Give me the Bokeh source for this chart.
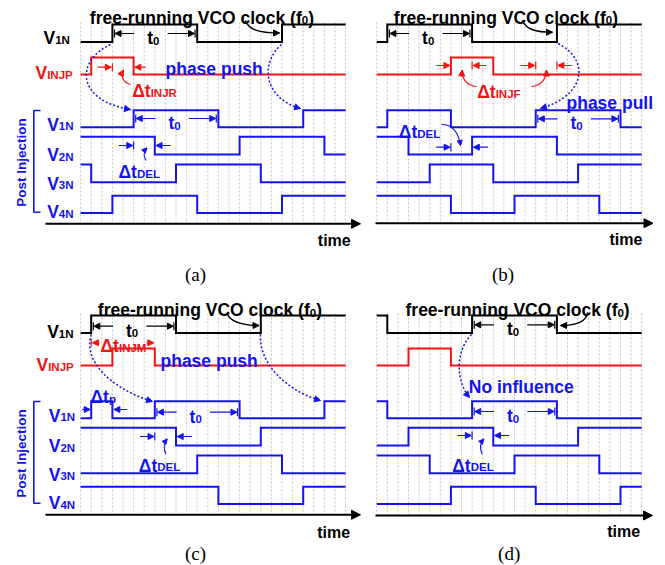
import math
from bokeh.plotting import figure
from bokeh.layouts import column, row
from bokeh.models import Range1d, Arrow, NormalHead
from bokeh.embed import file_html
from bokeh.resources import INLINE
from bokeh.core.properties import value

# ---------------- data (time in grid units; 1 unit = half a delay-cell delay) -------------
time_units = list(range(0, 26))      # dashed timing grid lines
t_end = 25

# each signal: (initial logic level, toggle times)
a_v1n_free = (0, [3, 11, 19])
a_injp     = (0, [1, 5])
a_v1n      = (0, [5, 13, 21])
a_v2n      = (1, [7, 15, 23])
a_v3n      = (1, [1, 9, 17])
a_v4n      = (0, [3, 11, 19])

b_v1n_free = (0, [1, 9, 17])
b_injp     = (0, [7, 11])
b_v1n      = (0, [1, 7, 15, 23])
b_v2n      = (1, [3, 9, 17])
b_v3n      = (0, [5, 11, 19])
b_v4n      = (1, [7, 13, 21])

c_v1n_free = (0, [1, 9, 17])
c_injp     = (0, [3, 7])
c_v1n      = (0, [1, 3, 7, 15, 23])
c_v2n      = (1, [9, 17])
c_v3n      = (0, [11, 19])
c_v4n      = (1, [13, 21])

d_v1n_free = (1, [1, 9, 17])
d_injp     = (0, [3, 7])
d_v1n      = (1, [1, 9, 17])
d_v2n      = (0, [3, 11, 19])
d_v3n      = (1, [5, 13, 21])
d_v4n      = (0, [7, 15, 23])

post_subs = ["1N", "2N", "3N", "4N"]
panel_labels = ["(a)", "(b)", "(c)", "(d)"]
title_parts = ["free-running VCO clock (f", "0", ")"]

# ---------------- layout / style ----------------
UNIT = 10.6
FONT = "Liberation Sans"
SERIF = "Liberation Serif"
BLACK = "#000000"
RED = "#f01414"
BLUE = "#1414f0"
GRIDC = "#b4b4b4"
ROWS = {"free": (24.0, 41.5), "inj": (57.0, 74.0), "v1": (109.7, 126.7),
        "v2": (136.3, 154.0), "v3": (164.0, 181.7), "v4": (195.3, 212.5)}
POST_BASE = [124.0, 154.5, 183.0, 211.5]
AXIS_Y = 223.3
GRID_TOP = 22.0
BIG, SUB = 17.5, 11.5
TOP_H = 286

W = {' ': 278, '(': 333, ')': 333, '-': 333, '0': 556, '1': 556, '2': 556, '3': 556, '4': 556,
     'C': 722, 'D': 722, 'E': 667, 'F': 611, 'I': 278, 'J': 556, 'L': 611, 'M': 833, 'N': 722,
     'O': 778, 'P': 667, 'R': 722, 'V': 667, 'a': 556, 'c': 556, 'e': 556, 'f': 333, 'g': 611,
     'h': 611, 'i': 278, 'j': 278, 'k': 556, 'l': 278, 'm': 889, 'n': 611, 'o': 611, 'p': 611,
     'r': 389, 's': 556, 't': 333, 'u': 611, 'Δ': 722}


def tw(s, size):
    return sum(W.get(ch, 600) for ch in s) * size / 1000.0


class Panel:
    def __init__(self, left, top, width, height, x0, y0):
        self.X0, self.Y0 = x0, y0
        self.fig = figure(width=width, height=height, output_backend="svg", toolbar_location=None,
                          x_range=Range1d((left - x0) / UNIT, (left + width - x0) / UNIT),
                          y_range=Range1d(top + height - y0, top - y0),
                          x_axis_type=None, y_axis_type=None, min_border=0,
                          outline_line_color=None, background_fill_color="white",
                          border_fill_color="white")

    def px(self, u):
        return self.X0 + u * UNIT

    def ux(self, x):
        return (x - self.X0) / UNIT

    def ly(self, y):
        return y - self.Y0


def steps(sig):
    lvl, edges = sig
    xs, ys = [0], [lvl]
    for e in edges:
        xs += [e, e]
        ys += [lvl, 1 - lvl]
        lvl = 1 - lvl
    xs.append(t_end)
    ys.append(lvl)
    return xs, ys


def wave(P, sig, rowname, color):
    xs, lv = steps(sig)
    hi, lo = ROWS[rowname]
    ys = [lo - l * (lo - hi) for l in lv]
    P.fig.line(xs, ys, line_color=color, line_width=2, line_join="miter")


def grid(P):
    P.fig.segment(x0=time_units, y0=[GRID_TOP] * len(time_units), x1=time_units,
                  y1=[AXIS_Y] * len(time_units), line_color=GRIDC, line_width=0.8, line_dash="2 2")


def text(P, x, base, s, size, color, align="left", bold=True, font=FONT, angle=0.0,
         baseline="alphabetic"):
    P.fig.text(x=[P.ux(x)], y=[P.ly(base)], text=[s], text_font=value(font),
               text_font_size=value(f"{size}px"), text_font_style="bold" if bold else "normal",
               text_color=color, text_align=align, text_baseline=baseline, angle=angle)


def rich(P, x, base, parts, color, align="left"):
    total = sum(tw(t, s) for t, s, dy in parts)
    if align == "center":
        x -= total / 2.0
    for t, s, dy in parts:
        text(P, x, base + dy, t, s, color)
        x += tw(t, s)


def arrow(P, x1, y1, x2, y2, color, size=6, width=1.2):
    P.fig.add_layout(Arrow(x_start=P.ux(x1), y_start=P.ly(y1), x_end=P.ux(x2), y_end=P.ly(y2),
                           line_color=color, line_width=width,
                           end=NormalHead(size=size, fill_color=color, line_color=color,
                                          line_width=1)))


def tick(P, x, y, color, h=4.0):
    P.fig.segment(x0=[P.ux(x)], y0=[P.ly(y - h)], x1=[P.ux(x)], y1=[P.ly(y + h)],
                  line_color=color, line_width=1.2)


def curve(P, pts, color, dash="solid", width=1.3, head=6):
    (xa, ya), (xb, yb), (xc, yc), (xd, yd) = pts
    P.fig.bezier(x0=[P.ux(xa)], y0=[P.ly(ya)], cx0=[P.ux(xb)], cy0=[P.ly(yb)],
                 cx1=[P.ux(xc)], cy1=[P.ly(yc)], x1=[P.ux(xd)], y1=[P.ly(yd)],
                 line_color=color, line_width=width, line_dash=dash)
    dx, dy = xd - xc, yd - yc
    L = math.hypot(dx, dy) or 1.0
    P.fig.add_layout(Arrow(x_start=P.ux(xd - 3 * dx / L), y_start=P.ly(yd - 3 * dy / L),
                           x_end=P.ux(xd), y_end=P.ly(yd), line_alpha=0.0,
                           end=NormalHead(size=head, fill_color=color, line_color=color,
                                          line_width=1)))


def t0_marks(P, e1, e2, y, color):
    a, b = P.px(e1), P.px(e2)
    mid = (a + b) / 2.0 - 1.5
    tk = 0.2 * UNIT
    tick(P, a + tk, y, color)
    arrow(P, mid - 1.8 * UNIT, y, a + tk + 0.5, y, color)
    tick(P, b - tk, y, color)
    arrow(P, mid + 1.35 * UNIT, y, b - tk - 0.5, y, color)
    rich(P, mid, y + 4.5, [("t", BIG, 0), ("0", SUB, 2.5)], color, align="center")


def del_marks(P, e1, e2, y, color):
    a, b = P.px(e1), P.px(e2)
    tick(P, a, y, color)
    arrow(P, a - 1.4 * UNIT, y, a - 0.8, y, color)
    arrow(P, b + 1.5 * UNIT, y, b + 1.2, y, color)


def common(P, sigs, title_x, title_base, axis_x0, axis_x1, axis_y, time_x, time_base,
           lab, lab_x, lab_base):
    grid(P)
    for sig, rn, col in zip(sigs, ["free", "inj", "v1", "v2", "v3", "v4"],
                            [BLACK, RED, BLUE, BLUE, BLUE, BLUE]):
        wave(P, sig, rn, col)
    rich(P, title_x, title_base, [(title_parts[0], BIG, 0), (title_parts[1], SUB, 2.5),
                                  (title_parts[2], BIG, 0)], BLACK)
    arrow(P, axis_x0, axis_y, axis_x1, axis_y, BLACK, size=9, width=2)
    text(P, time_x, time_base, "time", 16, BLACK)
    text(P, lab_x, lab_base, lab, 19, BLACK, align="center", bold=False, font=SERIF)


def post_labels(P, x):
    for sub, base in zip(post_subs, POST_BASE):
        rich(P, x, base + P.Y0, [("V", BIG, 0), (sub, SUB, 1.5)], BLUE)
    text(P, 21, 162 + P.Y0, "Post Injection", 13.5, BLUE, align="center",
         angle=math.pi / 2, baseline="middle")
    P.fig.line([P.ux(40), P.ux(33.3), P.ux(33.3), P.ux(40)],
               [110, 110, 211.7, 211.7], line_color=BLUE, line_width=1.6)


# ---------------- panel (a) ----------------
A = Panel(0, 0, 365, TOP_H, 80.1, 0)
common(A, [a_v1n_free, a_injp, a_v1n, a_v2n, a_v3n, a_v4n], 89.3, 17, 45, 360, AXIS_Y,
       317.3, 240, panel_labels[0], 195, 273.5)
rich(A, 43, 37.7, [("V", BIG, 0), ("1N", SUB, 1.5)], BLACK)
rich(A, 35, 72.7, [("V", BIG, 0), ("INJP", SUB, 1.5)], RED)
post_labels(A, 46.7)
t0_marks(A, a_v1n_free[1][0], a_v1n_free[1][1], 33, BLACK)
t0_marks(A, a_v1n[1][0], a_v1n[1][1], 118, BLUE)
curve(A, [(245, 20), (248, 29), (258, 32.5), (279, 32.5)], BLACK, width=1.5)
curve(A, [(110, 44), (75, 60), (75, 100), (130, 109)], BLUE, dash="2 2", width=1.5)
curve(A, [(281, 44), (260, 62), (262, 97), (300, 108)], BLUE, dash="2 2", width=1.5)
text(A, 165, 68.7, "phase push", BIG, BLUE)
tick(A, A.px(a_v1n_free[1][0]), 66.7, RED)
arrow(A, 97, 66.7, A.px(a_v1n_free[1][0]) - 1, 66.7, RED)
arrow(A, 145, 66.7, A.px(a_injp[1][1]) + 1.2, 66.7, RED)
rich(A, 131.7, 90.7, [("Δt", BIG, 0), ("INJR", SUB, 2)], RED)
curve(A, [(130, 84), (122, 82), (120, 75), (123, 69.5)], RED, width=1.2)
del_marks(A, a_v1n[1][0], a_v2n[1][0], 145, BLUE)
rich(A, 118, 171.7, [("Δt", BIG, 0), ("DEL", SUB, 1.6)], BLUE)
curve(A, [(145.5, 160), (143, 156), (143, 151), (146.5, 147.5)], BLUE, width=1.2, head=5)

# ---------------- panel (b) ----------------
B = Panel(365, 0, 300, TOP_H, 376.2, 0)
common(B, [b_v1n_free, b_injp, b_v1n, b_v2n, b_v3n, b_v4n], 393.3, 17, 375, 652.5, 222.7,
       609, 238.5, panel_labels[1], 502.5, 274)
t0_marks(B, b_v1n_free[1][0], b_v1n_free[1][1], 33, BLACK)
t0_marks(B, b_v1n[1][2], b_v1n[1][3], 118.3, BLUE)
curve(B, [(521.7, 20), (526, 29), (535, 31.7), (552, 31.7)], BLACK, width=1.5)
arrow(B, 436, 65, B.px(b_injp[1][0]) - 1, 65, RED)
tick(B, B.px(b_v1n_free[1][1]), 65, RED)
arrow(B, 486, 65, B.px(b_v1n_free[1][1]) + 1, 65, RED)
arrow(B, 520, 65, B.px(b_v1n[1][2]) - 1, 65, RED)
tick(B, B.px(b_v1n[1][2]), 65, RED)
tick(B, B.px(b_v1n_free[1][2]), 65, RED)
arrow(B, 571.7, 65, B.px(b_v1n_free[1][2]) + 1, 65, RED)
rich(B, 476.7, 91.7, [("Δt", BIG, 0), ("INJF", SUB, 2)], RED)
curve(B, [(476, 86), (466, 85), (461, 78), (461.7, 69.5)], RED, width=1.2)
curve(B, [(531, 86), (541, 85), (546, 78), (546, 69.5)], RED, width=1.2)
curve(B, [(557.7, 43), (590, 60), (585, 95), (540, 108)], BLUE, dash="2 2", width=1.5)
text(B, 566, 102.5, "phase pull", BIG, BLUE)
del_marks(B, b_v1n[1][1], b_v2n[1][1], 146.7, BLUE)
rich(B, 398.3, 131.7, [("Δt", BIG, 0), ("DEL", SUB, 1.6)], BLUE)
curve(B, [(441, 124), (452, 124), (458, 132), (460, 145)], BLUE, width=1.2, head=5)

# ---------------- panel (c) ----------------
C = Panel(0, TOP_H, 365, 565 - TOP_H, 80.1, 291)
common(C, [c_v1n_free, c_injp, c_v1n, c_v2n, c_v3n, c_v4n], 97.3, 309.5, 45, 360, 514.3,
       316.7, 531.5, panel_labels[2], 195, 553)
rich(C, 46.7, 331.7, [("V", BIG, 0), ("1N", SUB, 1.5)], BLACK)
rich(C, 36, 364.5, [("V", BIG, 0), ("INJP", SUB, 1.5)], RED)
post_labels(C, 48.3)
t0_marks(C, c_v1n_free[1][0], c_v1n_free[1][1], 325.7, BLACK)
t0_marks(C, c_v1n[1][2], c_v1n[1][3], 411.7, BLUE)
curve(C, [(226.7, 313.3), (230, 321), (240, 325), (258.5, 325)], BLACK, width=1.5)
tick(C, C.px(c_v1n_free[1][0]), 342.3, RED)
arrow(C, 99, 342.3, C.px(c_v1n_free[1][0]) + 1.2, 342.3, RED)
arrow(C, 146, 342.3, C.px(c_injp[1][1]) - 1, 342.3, RED)
rich(C, 100, 345.8, [("Δt", BIG, 0), ("INJM", SUB, 1.2)], RED)
text(C, 160, 360.4, "phase push", BIG, BLUE)
curve(C, [(90.7, 334), (82, 360), (110, 388), (152, 401)], BLUE, dash="2 2", width=1.5)
curve(C, [(260, 334), (258, 362), (285, 390), (320, 400)], BLUE, dash="2 2", width=1.5)
arrow(C, 81.7, 409, C.px(c_v1n[1][0]) - 1, 409, BLUE)
arrow(C, 126.7, 409, C.px(c_v1n[1][1]) + 1.5, 409, BLUE)
rich(C, 90, 396.7, [("Δt", BIG, 0), ("p", SUB, 2)], BLUE)
del_marks(C, c_v1n[1][2], c_v2n[1][0], 436, BLUE)
rich(C, 138.3, 465, [("Δt", BIG, 0), ("DEL", SUB, 1.6)], BLUE)
curve(C, [(165.5, 453.5), (163, 449), (163, 443), (166.7, 438.5)], BLUE, width=1.2, head=5)

# ---------------- panel (d) ----------------
D = Panel(365, TOP_H, 300, 565 - TOP_H, 376.2, 291)
common(D, [d_v1n_free, d_injp, d_v1n, d_v2n, d_v3n, d_v4n], 405, 309.5, 375, 652, 515,
       606.7, 530.5, panel_labels[3], 508.7, 553)
t0_marks(D, d_v1n_free[1][1], d_v1n_free[1][2], 324.3, BLACK)
t0_marks(D, d_v1n[1][1], d_v1n[1][2], 411, BLUE)
curve(D, [(587, 312), (586, 321), (576, 325), (560, 325)], BLACK, width=1.5)
curve(D, [(471, 334), (455, 350), (455, 380), (469, 397)], BLUE, dash="2 2", width=1.5)
text(D, 468.3, 386.4, "No influence", BIG, BLUE)
del_marks(D, d_v1n[1][1], d_v2n[1][1], 435, BLUE)
rich(D, 451.7, 465, [("Δt", BIG, 0), ("DEL", SUB, 1.6)], BLUE)
curve(D, [(481.7, 453.5), (479.5, 449), (479.5, 443), (483.3, 438.5)], BLUE, width=1.2, head=5)

layout = column(row(A.fig, B.fig), row(C.fig, D.fig))
open("out.html", "w").write(file_html(layout, INLINE))
